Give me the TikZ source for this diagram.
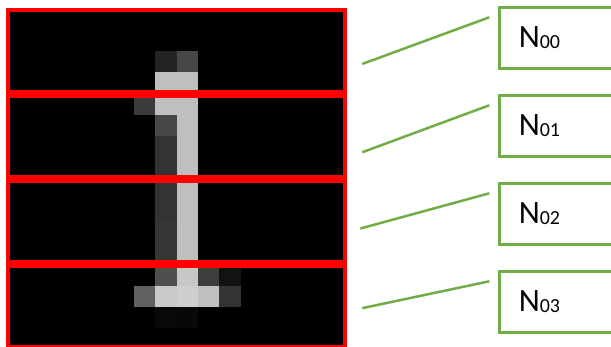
\documentclass[tikz,border=0pt]{standalone}
\usepackage{fontspec}
\setmainfont{Carlito}
\usetikzlibrary{positioning}
\definecolor{lgreen}{HTML}{70AD47}
\newcommand{\nsub}[1]{{\fontsize{20}{20}\selectfont\raisebox{-1.5pt}{#1}}}

\begin{document}
\begin{tikzpicture}[x=1pt,y=1pt,node distance=24pt,
  strip/.style={draw=red,line width=4pt,minimum width=337.3pt,
  minimum height=81.3pt,inner sep=0pt},
  box/.style={draw=lgreen,line width=3pt,minimum height=61pt,inner xsep=19pt,
  text width=112pt,align=left,font=\fontsize{32.6}{36}\selectfont},
  link/.style={draw=lgreen,line width=2.5pt}]
\useasboundingbox (0,0) rectangle (611,-347);
\clip (0,0) rectangle (611,-347);
\fill[black] (6,-8.3) rectangle ++(341.3,-341.3);
\foreach \c/\r/\g in {7/2/14,8/2/28,7/3/75,8/3/75,6/4/23,7/4/75,8/4/75,7/5/28,
  7/6/20,7/7/20,7/8/20,7/9/20,7/10/21,7/11/21,7/12/31,9/12/24,10/12/7,
  6/13/38,7/13/79,8/13/81,9/13/75,10/13/20,7/14/3.5,8/14/3}
  \fill[white!\g!black] ({6+\c*21.33},{-8.3-\r*21.33}) rectangle ++(21.33,-21.33);
\foreach \r in {4,...,11}
  \fill[white!75!black] ({6+8*21.33},{-8.3-\r*21.33}) rectangle ++(21.33,-21.33);
\fill[white!78!black] ({6+8*21.33},{-8.3-12*21.33}) rectangle ++(21.33,-21.33);
\node[strip,anchor=north west] (s0) at (6,-8.3) {};
\node[strip,below=0pt of s0] (s1) {};
\node[strip,below=0pt of s1] (s2) {};
\node[strip,below=0pt of s2] (s3) {};
\node[box,anchor=north west] (b0) at (498.3,-5.7) {N\nsub{00}};
\node[box,below=of b0] (b1) {N\nsub{01}};
\node[box,below=of b1] (b2) {N\nsub{02}};
\node[box,below=of b2] (b3) {N\nsub{03}};
\coordinate (e0) at ([shift={(15,-13)}]s0.east);
\coordinate (e1) at ([shift={(15,-16)}]s1.east);
\coordinate (e2) at ([shift={(13,-7)}]s2.east);
\coordinate (e3) at ([shift={(15,-1.3)}]s3.east);
\draw[link] (e0) -- ([shift={(-9,-11.6)}]b0.north west);
\draw[link] (e1) -- ([shift={(-9,-11.6)}]b1.north west);
\draw[link] (e2) -- ([shift={(-9,-11.6)}]b2.north west);
\draw[link] (e3) -- ([shift={(-9,-11.6)}]b3.north west);
\end{tikzpicture}
\end{document}
